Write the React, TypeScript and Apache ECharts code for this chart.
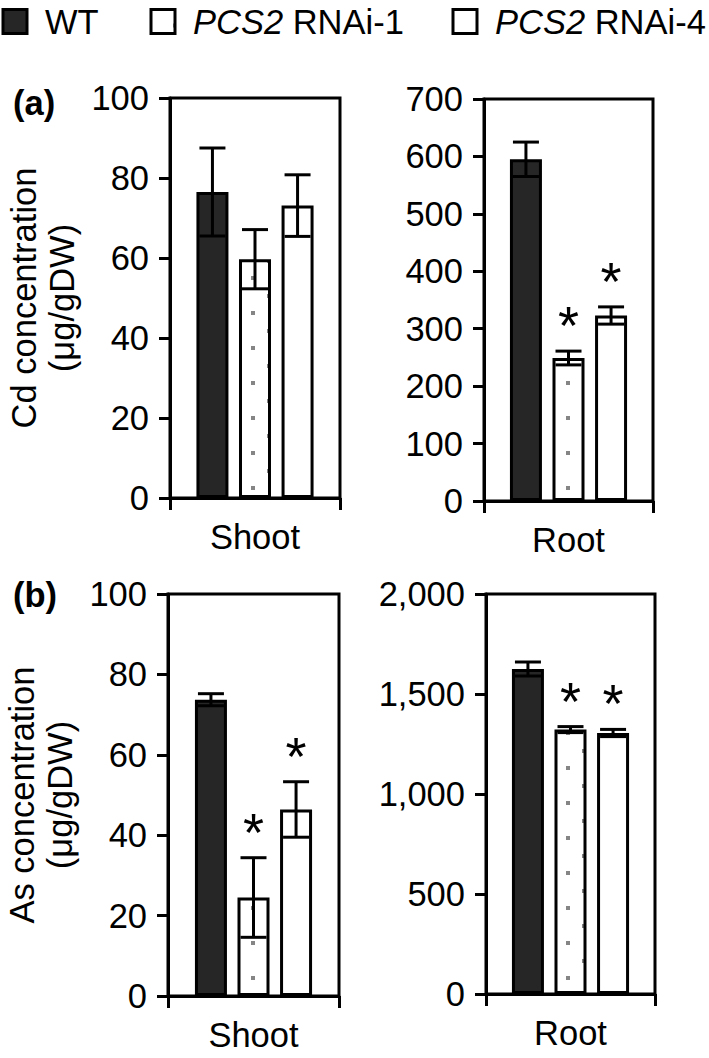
import React, { useEffect, useRef } from 'react';
import * as echarts from 'echarts';

// ---- data ----
const groups = ['WT', 'PCS2 RNAi-1', 'PCS2 RNAi-4'];
const tissues = ['Shoot', 'Root'];

const cdShootMean = [76.5, 59.7, 73.1];
const cdShootErr = [11, 7.4, 7.7];
const cdShootSig = [0, 0, 0];

const cdRootMean = [595, 249, 323];
const cdRootErr = [30, 12, 15];
const cdRootSig = [0, 1, 1];

const asShootMean = [73.7, 24.5, 46.4];
const asShootErr = [1.5, 9.9, 6.9];
const asShootSig = [0, 1, 1];

const asRootMean = [1625, 1322, 1305];
const asRootErr = [35, 15, 18];
const asRootSig = [0, 1, 1];

const cdAxisName = 'Cd concentration\n(μg/gDW)';
const asAxisName = 'As concentration\n(μg/gDW)';

const FONT = '"Liberation Sans", Arial, Helvetica, sans-serif';
const FS = 34.5;
const BAR_W = 32;
const BAR_GAP = 0.33;
const CAP = 26;

function makeDots() {
  const cv = document.createElement('canvas');
  cv.width = 35;
  cv.height = 35;
  const ctx = cv.getContext('2d')!;
  ctx.fillStyle = '#ffffff';
  ctx.fillRect(0, 0, 35, 35);
  ctx.fillStyle = '#858585';
  ctx.fillRect(6, 31, 4, 4);
  ctx.fillRect(22, 14, 3, 4);
  return { image: cv, repeat: 'repeat', imageWidth: 35, imageHeight: 35 };
}

export default function App() {
  const ref = useRef<HTMLDivElement>(null);
  useEffect(() => {
    document.body.style.margin = '0';
    if (!ref.current) return;
    const chart = echarts.init(ref.current, undefined, { renderer: 'svg' });
    const dotted = makeDots();
    const fills: any[] = ['#262626', dotted, '#ffffff'];

    const panels = [
      { grid: { left: 170, top: 98, width: 170, height: 400 }, cat: tissues[0], max: 100, interval: 20, name: cdAxisName, mean: cdShootMean, err: cdShootErr, sig: cdShootSig },
      { grid: { left: 484, top: 99, width: 169, height: 402 }, cat: tissues[1], max: 700, interval: 100, name: '', mean: cdRootMean, err: cdRootErr, sig: cdRootSig },
      { grid: { left: 168, top: 594, width: 171, height: 402 }, cat: tissues[0], max: 100, interval: 20, name: asAxisName, mean: asShootMean, err: asShootErr, sig: asShootSig },
      { grid: { left: 486, top: 594, width: 169, height: 400 }, cat: tissues[1], max: 2000, interval: 500, name: '', mean: asRootMean, err: asRootErr, sig: asRootSig },
    ];

    const axisLine = { show: true, lineStyle: { color: '#000', width: 3 } };
    const labelStyle = { fontSize: FS, fontFamily: FONT, color: '#000' };

    const series: any[] = [];
    panels.forEach((p, i) => {
      groups.forEach((g, k) => {
        series.push({
          type: 'bar',
          name: g,
          xAxisIndex: i,
          yAxisIndex: i,
          data: [p.mean[k]],
          barWidth: BAR_W,
          barGap: BAR_GAP * 100 + '%',
          itemStyle: { color: fills[k], borderColor: '#000', borderWidth: 3 },
        });
      });
      series.push({
        type: 'custom',
        xAxisIndex: i,
        yAxisIndex: i,
        silent: true,
        z: 5,
        encode: { x: 0, y: 1 },
        data: p.mean.map((m, k) => [0, m, p.err[k], p.sig[k], k]),
        renderItem: (params: any, api: any) => {
          const k = api.value(4);
          const m = api.value(1);
          const e = api.value(2);
          const s = api.value(3);
          const step = BAR_W * (1 + BAR_GAP);
          const c = api.coord([0, m]);
          const x = c[0] + (k - 1) * step;
          const yTop = api.coord([0, m + e])[1];
          const yBot = api.coord([0, m - e])[1];
          const st = { stroke: '#000', lineWidth: 3 };
          const children: any[] = [
            { type: 'line', shape: { x1: x, y1: yTop, x2: x, y2: yBot }, style: st },
            { type: 'line', shape: { x1: x - CAP / 2, y1: yTop, x2: x + CAP / 2, y2: yTop }, style: st },
            { type: 'line', shape: { x1: x - CAP / 2, y1: yBot, x2: x + CAP / 2, y2: yBot }, style: st },
          ];
          if (s) {
            children.push({
              type: 'text',
              x,
              y: yTop - 26,
              style: { text: '*', fontSize: 54, fontFamily: FONT, fill: '#000', align: 'center', verticalAlign: 'middle' },
            });
          }
          return { type: 'group', children };
        },
      });
    });

    const legendX = [1.5, 149.5, 451.5];
    const option: any = {
      animation: false,
      backgroundColor: '#ffffff',
      grid: panels.map((p) => ({ ...p.grid, show: true, borderColor: '#000', borderWidth: 3, backgroundColor: 'transparent' })),
      xAxis: panels.map((p, i) => ({
        type: 'category',
        gridIndex: i,
        data: [p.cat],
        axisLine,
        axisTick: { show: true, length: 12, lineStyle: { color: '#000', width: 3 } },
        axisLabel: { ...labelStyle, margin: 21 },
        splitLine: { show: false },
      })),
      yAxis: panels.map((p, i) => ({
        type: 'value',
        gridIndex: i,
        min: 0,
        max: p.max,
        interval: p.interval,
        name: p.name,
        nameLocation: 'middle',
        nameRotate: 90,
        nameGap: 89,
        nameTextStyle: { ...labelStyle, lineHeight: 38 },
        axisLine,
        axisTick: { show: true, length: 11, lineStyle: { color: '#000', width: 3 } },
        axisLabel: { ...labelStyle, margin: 21, formatter: (v: number) => v.toLocaleString('en-US') },
        splitLine: { show: false },
      })),
      legend: groups.map((g, k) => ({
        data: [g],
        left: legendX[k],
        top: 4,
        padding: 0,
        icon: 'rect',
        itemWidth: 24,
        itemHeight: 24,
        selectedMode: false,
        itemStyle: { borderColor: '#000', borderWidth: 3 },
        formatter: (n: string) => (n.startsWith('PCS2') ? '{i|PCS2}' + n.slice(4) : n),
        textStyle: {
          ...labelStyle,
          padding: [0, 0, 0, 13],
          rich: { i: { fontStyle: 'italic', fontSize: FS, fontFamily: FONT, color: '#000' } },
        },
      })),
      graphic: [
        { type: 'text', left: 13, top: 85, style: { text: '(a)', font: `bold ${FS}px ${FONT}`, fill: '#000' } },
        { type: 'text', left: 13, top: 577, style: { text: '(b)', font: `bold ${FS}px ${FONT}`, fill: '#000' } },
      ],
      series,
    };
    chart.setOption(option);
    return () => chart.dispose();
  }, []);
  return <div ref={ref} style={{ width: 709, height: 1058 }} />;
}
